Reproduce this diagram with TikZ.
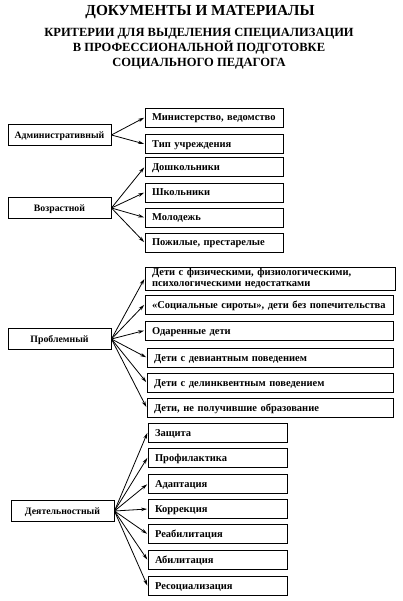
\documentclass[tikz,border=0pt]{standalone}
\usepackage{fontspec}
\setmainfont{Liberation Serif}
\usetikzlibrary{arrows.meta,shadows}
\begin{document}
\begin{tikzpicture}[x=1pt,y=-1pt,
  box/.style={draw, line width=0.9pt, fill=white, inner sep=0pt, font=\fontsize{10.5}{11}\selectfont\bfseries,
    text height=8.5pt, text depth=1.5pt,
    drop shadow={shadow xshift=0.8pt, shadow yshift=-0.8pt, fill=black, opacity=1}},
  lbox/.style={box, minimum width=103pt, minimum height=21pt, align=center, font=\fontsize{9.8}{11}\selectfont\bfseries},
  rbox/.style={box, minimum height=19pt, text width=#1-14pt, minimum width=#1, align=left},
  arr/.style={-{Stealth[length=6pt,width=3.5pt]}, line width=0.8pt, shorten >=0.5pt},
  ttl/.style={font=\fontsize{15.3}{17}\selectfont\bfseries},
  sub/.style={font=\fontsize{12.5}{15}\selectfont\bfseries, align=center}]
\useasboundingbox (0,0) rectangle (402,601);
\node[ttl] (t1) at (200,12) {ДОКУМЕНТЫ И МАТЕРИАЛЫ};
\node[sub] (t2) at (199,49) {КРИТЕРИИ ДЛЯ ВЫДЕЛЕНИЯ СПЕЦИАЛИЗАЦИИ\\В ПРОФЕССИОНАЛЬНОЙ ПОДГОТОВКЕ\\СОЦИАЛЬНОГО ПЕДАГОГА};

% left boxes
\node[lbox] (adm) at (59.5,135) {Административный};
\node[lbox] (voz) at (59.5,208) {Возрастной};
\node[lbox] (pro) at (59.5,339) {Проблемный};
\node[lbox] (dey) at (62.5,511) {Деятельностный};

% group 1
\node[rbox=138pt] (a1) at (214,117.5) {Министерство, ведомство};
\node[rbox=138pt] (a2) at (214,144) {Тип учреждения};
% group 2
\node[rbox=138pt] (b1) at (214,167) {Дошкольники};
\node[rbox=138pt] (b2) at (214,192.5) {Школьники};
\node[rbox=138pt] (b3) at (214,217.5) {Молодежь};
\node[rbox=138pt] (b4) at (214,242.5) {Пожилые, престарелые};
% group 3
\node[rbox=250pt, minimum height=23pt, text height=, text depth=, font=\fontsize{10.5}{10.5}\selectfont\bfseries] (c1) at (270,278.5) {Дети с физическими, физиологическими,\\психологическими недостатками};
\node[rbox=248pt] (c2) at (269,304.5) {«Социальные сироты», дети без попечительства};
\node[rbox=248pt] (c3) at (269,330.5) {Одаренные дети};
\node[rbox=246pt] (c4) at (270,357.5) {Дети с девиантным поведением};
\node[rbox=246pt] (c5) at (270,382.5) {Дети с делинквентным поведением};
\node[rbox=246pt] (c6) at (270,407.5) {Дети, не получившие образование};
% group 4
\node[rbox=139pt] (d1) at (217.5,432.5) {Защита};
\node[rbox=139pt] (d2) at (217.5,457.5) {Профилактика};
\node[rbox=139pt] (d3) at (217.5,484) {Адаптация};
\node[rbox=139pt] (d4) at (217.5,509) {Коррекция};
\node[rbox=139pt] (d5) at (217.5,534) {Реабилитация};
\node[rbox=139pt] (d6) at (217.5,560) {Абилитация};
\node[rbox=139pt] (d7) at (217.5,586) {Ресоциализация};

\foreach \t in {a1,a2} \draw[arr] (adm.east) -- (\t.west);
\foreach \t in {b1,b2,b3,b4} \draw[arr] (voz.east) -- (\t.west);
\foreach \t in {c1,c2,c3,c4,c5,c6} \draw[arr] (pro.east) -- (\t.west);
\foreach \t in {d1,d2,d3,d4,d5,d6,d7} \draw[arr] (dey.east) -- (\t.west);
\end{tikzpicture}
\end{document}
